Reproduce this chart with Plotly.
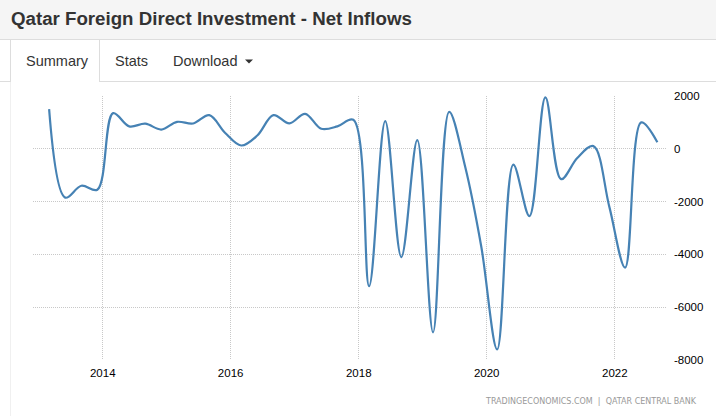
import plotly.graph_objects as go

# ---- data ----
dates = [
    "2013-03-01", "2013-06-01", "2013-09-01", "2013-12-01",
    "2014-03-01", "2014-06-01", "2014-09-01", "2014-12-01",
    "2015-03-01", "2015-06-01", "2015-09-01", "2015-12-01",
    "2016-03-01", "2016-06-01", "2016-09-01", "2016-12-01",
    "2017-03-01", "2017-06-01", "2017-09-01", "2017-12-01",
    "2018-03-01", "2018-06-01", "2018-09-01", "2018-12-01",
    "2019-03-01", "2019-06-01", "2019-09-01", "2019-12-01",
    "2020-03-01", "2020-06-01", "2020-09-01", "2020-12-01",
    "2021-03-01", "2021-06-01", "2021-09-01", "2021-12-01",
    "2022-03-01", "2022-06-01", "2022-09-01",
]
net_inflows = [
    1500, -1850, -1400, -1550,
    1350, 850, 950, 730,
    1020, 960, 1275, 600,
    125, 504, 1275, 960,
    1325, 757, 850, 1100,
    -5200, 1050, -4100, 330,
    -6950, 1400, -700, -3700,
    -7600, -600, -2550, 1950,
    -1150, -350, 100, -2200,
    -4500, 1000, 250,
]
x_tick_vals = ["2014-01-01", "2016-01-01", "2018-01-01", "2020-01-01", "2022-01-01"]
x_tick_labels = ["2014", "2016", "2018", "2020", "2022"]
y_tick_vals = [2000, 0, -2000, -4000, -6000, -8000]
y_tick_labels = ["2000", "0", "-2000", "-4000", "-6000", "-8000"]

title_text = "Qatar Foreign Direct Investment - Net Inflows"
tabs = ["Summary", "Stats", "Download"]
footer_text = "TRADINGECONOMICS.COM  |  QATAR CENTRAL BANK"

W, H = 716, 416


def px(x):
    return x / W


def py(y):
    return 1 - y / H


fig = go.Figure()
fig.add_trace(go.Scatter(
    x=dates, y=net_inflows, mode="lines",
    line=dict(color="#4682b4", width=2.2, shape="spline", smoothing=1.0),
    hoverinfo="skip", showlegend=False,
))

grid = dict(showgrid=True, gridcolor="#c8c8c8", griddash="1px,1px", gridwidth=1)
fig.update_layout(
    width=W, height=H,
    margin=dict(l=0, r=0, t=0, b=0),
    paper_bgcolor="white", plot_bgcolor="white",
    font=dict(family="Liberation Sans, Arial, sans-serif", color="#000"),
    xaxis=dict(
        type="date", domain=[px(33), px(667)],
        range=["2012-11-29", "2022-10-26"],
        tickvals=x_tick_vals, ticktext=x_tick_labels,
        tickfont=dict(size=11.5, color="#000"),
        ticks="", zeroline=False, showline=False,
        ticklabelstandoff=4, automargin=False, fixedrange=True,
        **grid,
    ),
    yaxis=dict(
        domain=[1 - 360 / H, 1 - 96 / H], range=[-8000, 2000], side="right",
        tickvals=y_tick_vals, ticktext=y_tick_labels,
        tickfont=dict(size=11.5, color="#000"),
        ticks="", zeroline=False, showline=False,
        ticklabelstandoff=6, automargin=False, fixedrange=True,
        **grid,
    ),
)

shapes = []
# header bar
shapes.append(dict(type="rect", xref="paper", yref="paper", x0=0, x1=1, y0=py(39.5), y1=1,
                   fillcolor="#f5f5f5", line=dict(width=0), layer="below"))
shapes.append(dict(type="line", xref="paper", yref="paper", x0=0, x1=1, y0=py(39.5), y1=py(39.5),
                   line=dict(color="#dddddd", width=1)))
# tab underline
shapes.append(dict(type="line", xref="paper", yref="paper", x0=0, x1=px(10.5), y0=py(81.5), y1=py(81.5),
                   line=dict(color="#dddddd", width=1)))
shapes.append(dict(type="line", xref="paper", yref="paper", x0=px(100), x1=1, y0=py(81.5), y1=py(81.5),
                   line=dict(color="#dddddd", width=1)))
# active tab borders
shapes.append(dict(type="line", xref="paper", yref="paper", x0=px(10.5), x1=px(10.5), y0=py(40), y1=py(82),
                   line=dict(color="#dddddd", width=1)))
shapes.append(dict(type="line", xref="paper", yref="paper", x0=px(99.5), x1=px(99.5), y0=py(40), y1=py(82),
                   line=dict(color="#dddddd", width=1)))
# faint panel left border
shapes.append(dict(type="line", xref="paper", yref="paper", x0=px(10.5), x1=px(10.5), y0=py(82), y1=0,
                   line=dict(color="#f0f0f0", width=1)))
# dropdown caret
shapes.append(dict(type="path", xref="paper", yref="paper",
                   path=f"M {px(245)},{py(59.5)} L {px(253)},{py(59.5)} L {px(249)},{py(63.5)} Z",
                   fillcolor="#333333", line=dict(width=0)))
fig.update_layout(shapes=shapes)

ann = []
ann.append(dict(text=f"<b>{title_text}</b>", xref="paper", yref="paper", x=px(9), y=py(19),
                xanchor="left", yanchor="middle", showarrow=False,
                font=dict(size=18.7, color="#333333", family="Liberation Sans, Arial, sans-serif")))
tab_x = [24, 113, 171]
for t, xx in zip(tabs, tab_x):
    ann.append(dict(text=t, xref="paper", yref="paper", x=px(xx), y=py(61.5),
                    xanchor="left", yanchor="middle", showarrow=False,
                    font=dict(size=14.5, color="#333333", family="Liberation Sans, Arial, sans-serif")))
ann.append(dict(text=footer_text, xref="paper", yref="paper", x=px(699), y=py(401.5),
                xanchor="right", yanchor="middle", showarrow=False,
                font=dict(size=8, color="#999999", family="DejaVu Sans, Verdana, sans-serif")))
fig.update_layout(annotations=ann)

fig.write_html(
    "out.html",
    config={"displayModeBar": False},
    post_script="document.body.style.margin='0';document.body.style.overflow='hidden';",
)
